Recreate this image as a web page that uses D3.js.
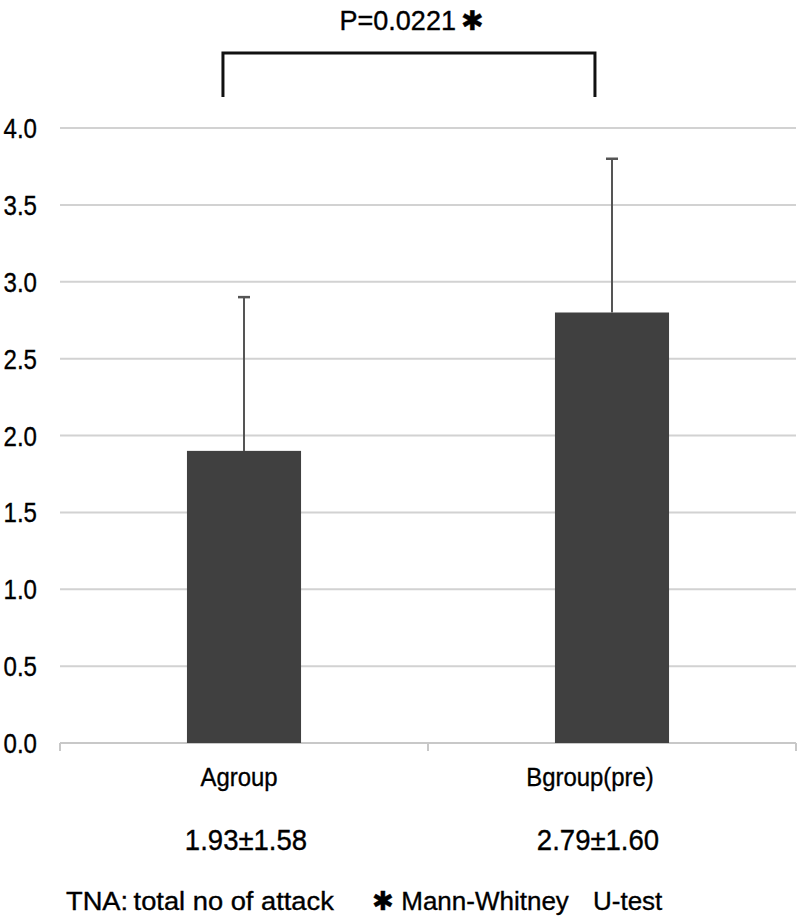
<!DOCTYPE html>
<html>
<head>
<meta charset="utf-8">
<script src="https://cdn.jsdelivr.net/npm/d3@7"></script>
<style>
  html, body { margin: 0; padding: 0; background: #fff; }
  svg { display: block; }
  text { font-family: "Liberation Sans", Arial, "Noto Sans CJK JP", sans-serif; fill: #000; stroke: #000; stroke-width: 0.35px; }
</style>
</head>
<body>
<svg id="chart" width="800" height="924"></svg>
<script>
// ---- data ----
const categories = ["Agroup", "Bgroup(pre)"];
const means = [1.9, 2.8];
const errors = [1.0, 1.0];
const statLabels = ["1.93\u00b11.58", "2.79\u00b11.60"];
const yTicks = [0, 0.5, 1.0, 1.5, 2.0, 2.5, 3.0, 3.5, 4.0];
const pLabel = "P=0.0221\u2009\u2731";
const footnoteParts = ["TNA:\u2009total no of attack", "\u2731 Mann-Whitney", "U-test"];

(function () {
const svg = d3.select("#chart");
const mLeft = 60, mRight = 796, mTop = 128, mBottom = 743;

const x = d3.scaleBand().domain(categories).range([mLeft, mRight])
  .paddingInner(0.69).paddingOuter(0.345);
const y = d3.scaleLinear().domain([0, 4]).range([mBottom, mTop]);
const step = x.step();

// gridlines
svg.append("g").selectAll("line").data(yTicks.filter(d => d > 0)).join("line")
  .attr("x1", mLeft).attr("x2", mRight)
  .attr("y1", d => y(d)).attr("y2", d => y(d))
  .attr("stroke", "#d2d2d2").attr("stroke-width", 2);

// y labels (slightly condensed)
svg.append("g").selectAll("text").data(yTicks).join("text")
  .attr("transform", d => `translate(37,${y(d) + 10}) scale(0.86,1)`)
  .attr("text-anchor", "end")
  .attr("font-size", 28)
  .text(d => d.toFixed(1));

// bottom axis with category boundary ticks
const xAxis = svg.append("g");
xAxis.append("line").attr("x1", mLeft).attr("x2", mRight)
  .attr("y1", y(0)).attr("y2", y(0))
  .attr("stroke", "#c8c8c8").attr("stroke-width", 2);
const boundaries = [mLeft].concat(categories.map((c, i) => mLeft + step * (i + 1)));
xAxis.selectAll("line.tk").data(boundaries).join("line").attr("class", "tk")
  .attr("x1", d => d).attr("x2", d => d)
  .attr("y1", y(0)).attr("y2", y(0) + 8)
  .attr("stroke", "#c8c8c8").attr("stroke-width", 2);

// bars
svg.append("g").selectAll("rect").data(categories).join("rect")
  .attr("x", d => x(d)).attr("width", x.bandwidth())
  .attr("y", (d, i) => y(means[i]))
  .attr("height", (d, i) => y(0) - y(means[i]))
  .attr("fill", "#404040");

// error bars
const eb = svg.append("g").attr("stroke", "#555").attr("stroke-width", 2);
categories.forEach((c, i) => {
  const cx = x(c) + x.bandwidth() / 2;
  eb.append("line").attr("x1", cx).attr("x2", cx)
    .attr("y1", y(means[i])).attr("y2", y(means[i] + errors[i]));
  eb.append("line").attr("x1", cx - 6).attr("x2", cx + 6)
    .attr("y1", y(means[i] + errors[i])).attr("y2", y(means[i] + errors[i]))
    .attr("stroke-width", 2.5);
});

// category labels
const catOffsets = [-5, -22];
svg.append("g").selectAll("text").data(categories).join("text")
  .attr("transform", (d, i) => `translate(${x(d) + x.bandwidth() / 2 + catOffsets[i]},786) scale(0.92,1)`)
  .attr("text-anchor", "middle")
  .attr("font-size", 26)
  .text(d => d);

// stat labels
const statOffsets = [2, -14];
svg.append("g").selectAll("text").data(statLabels).join("text")
  .attr("transform", (d, i) => `translate(${x(categories[i]) + x.bandwidth() / 2 + statOffsets[i]},850) scale(0.95,1)`)
  .attr("text-anchor", "middle")
  .attr("font-size", 29)
  .text(d => d);

// significance bracket
const bx1 = x(categories[0]) + 36, bx2 = x(categories[1]) + 40;
svg.append("path")
  .attr("d", `M${bx1},97 V53 H${bx2} V97`)
  .attr("fill", "none").attr("stroke", "#111").attr("stroke-width", 3);
svg.append("text").attr("x", (bx1 + bx2) / 2 + 3).attr("y", 30)
  .attr("text-anchor", "middle").attr("font-size", 27)
  .text(pLabel);

// footnote
const footX = [66, 372, 593];
const footSX = [1.05, 1, 1];
svg.append("g").selectAll("text").data(footnoteParts).join("text")
  .attr("transform", (d, i) => `translate(${footX[i]},910) scale(${footSX[i]},1)`)
  .attr("font-size", 26)
  .text(d => d);
})();
</script>
</body>
</html>
